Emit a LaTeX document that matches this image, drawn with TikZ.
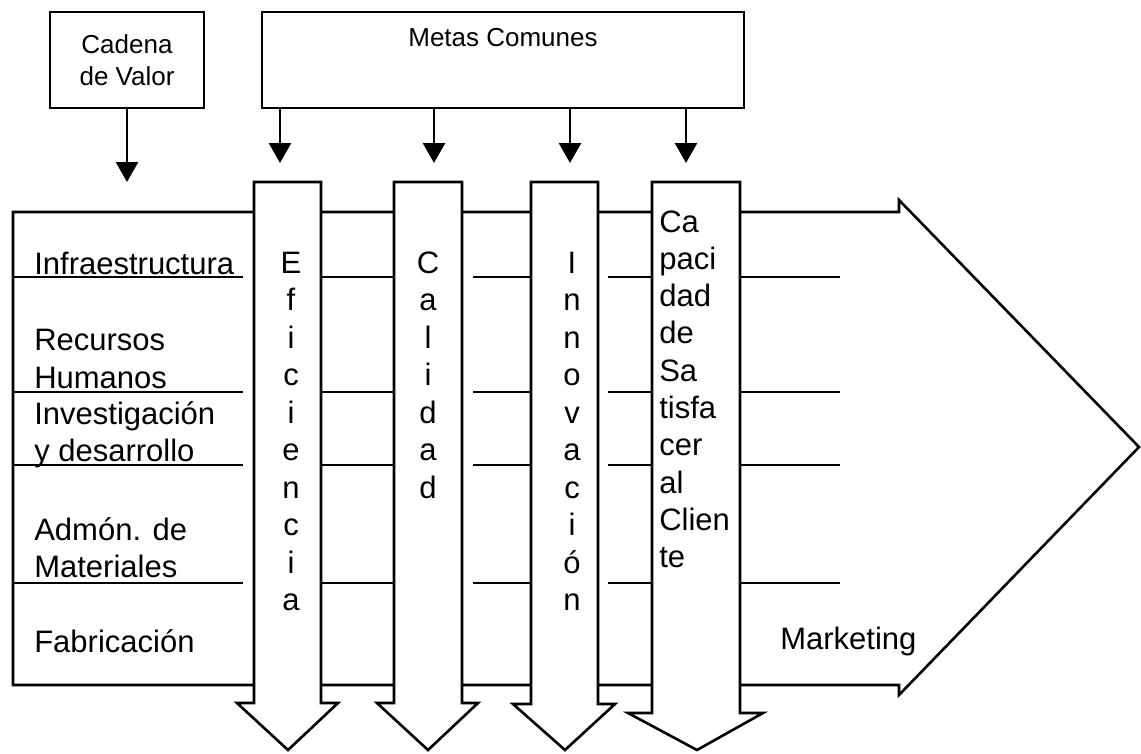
\documentclass[tikz,border=0pt]{standalone}
\usepackage{fontspec}
\setmainfont{Liberation Sans}
\usetikzlibrary{arrows.meta}
\newcommand\bodyfont{\fontsize{31}{37.5}\selectfont}
\newcommand\headfont{\fontsize{26}{32}\selectfont}
\begin{document}
\begin{tikzpicture}[x=1pt, y=-1pt, line width=2.6pt, line join=miter,
  txt/.style={inner sep=0pt, font=\bodyfont},
  boxnode/.style={draw, inner sep=0pt, font=\headfont, align=center},
  feed/.style={-{Triangle[width=22pt,length=20pt]}},
  blockarrow/.style={draw, fill=white},
  rowline/.style={line width=2.4pt}]
\fill[white] (0,0) rectangle (1141,753);
\useasboundingbox (0,0) rectangle (1141,753);

% header boxes
\node[boxnode, minimum width=154pt, minimum height=96pt] (cadena) at (127,60) {Cadena\\de Valor};
\node[boxnode, minimum width=482pt, minimum height=96pt] (metas) at (503,60) {};
\node[inner sep=0pt, font=\headfont] (metaslbl) at (503,38) {Metas Comunes};

% targets of the feeding arrows
\coordinate (chainIn) at (127,182);
\coordinate (effIn) at (280,163);
\coordinate (calIn) at (434,163);
\coordinate (innIn) at (570,163);
\coordinate (capIn) at (686,163);

\draw[feed] (cadena) -- (chainIn);
\foreach \c in {effIn,calIn,innIn,capIn}
  \draw[feed] (metas.south -| \c) -- (\c);

% value chain: large arrow pointing right
\draw (13,212) -- (899,212) -- (899,200) -- (1139,447) -- (899,695) -- (899,685) -- (13,685) -- cycle;

% row separators
\foreach \y in {277,392,465,583} {
  \draw[rowline] (13,\y) -- (243,\y);
  \draw[rowline] (321,\y) -- (394,\y);
  \draw[rowline] (473,\y) -- (531,\y);
  \draw[rowline] (608,\y) -- (652,\y);
  \draw[rowline] (740,\y) -- (840,\y);
}

% common goals: arrows pointing down
\path[blockarrow] (254,182) -- (321,182) -- (321,703) -- (338,703) -- (288,750) -- (237,703) -- (254,703) -- cycle;
\path[blockarrow] (394,182) -- (462,182) -- (462,703) -- (478,703) -- (428,750) -- (377,703) -- (394,703) -- cycle;
\path[blockarrow] (531,182) -- (598,182) -- (598,704) -- (615,704) -- (565,750) -- (513,704) -- (531,704) -- cycle;
\path[blockarrow] (652,182) -- (740,182) -- (740,713) -- (763,713) -- (697,750) -- (628,713) -- (652,713) -- cycle;

% activities
\node[txt, anchor=base west] (infra) at (33,274) {Infraestructura};
\node[txt, anchor=base west] (rh1) at (33,350) {Recursos};
\node[txt, anchor=base west] (rh2) at (33,388) {Humanos};
\node[txt, anchor=base west] (id1) at (33,424) {Investigación};
\node[txt, anchor=base west] (id2) at (33,461) {y desarrollo};
\node[txt, anchor=base west] (am1) at (33,540) {Admón. de};
\node[txt, anchor=base west] (am2) at (33,577) {Materiales};
\node[txt, anchor=base west] (fab) at (33,652) {Fabricación};
\node[txt, anchor=base west] (mkt) at (779,649) {Marketing};

% goal labels, one letter per line
\foreach \ch [count=\i from 0] in {E,f,i,c,i,e,n,c,i,a}
  \node[txt, anchor=base] (ef\i) at (291, 273+37.5*\i) {\ch};
\foreach \ch [count=\i from 0] in {C,a,l,i,d,a,d}
  \node[txt, anchor=base] (ca\i) at (428, 273+37.5*\i) {\ch};
\foreach \ch [count=\i from 0] in {I,n,n,o,v,a,c,i,ó,n}
  \node[txt, anchor=base] (in\i) at (572, 273+37.5*\i) {\ch};
\foreach \w [count=\i from 0] in {Ca,paci,dad,de,Sa,tisfa,cer,al,Clien,te}
  \node[txt, anchor=base west] (sc\i) at (658, 232+37.3*\i) {\w};
\end{tikzpicture}
\end{document}
